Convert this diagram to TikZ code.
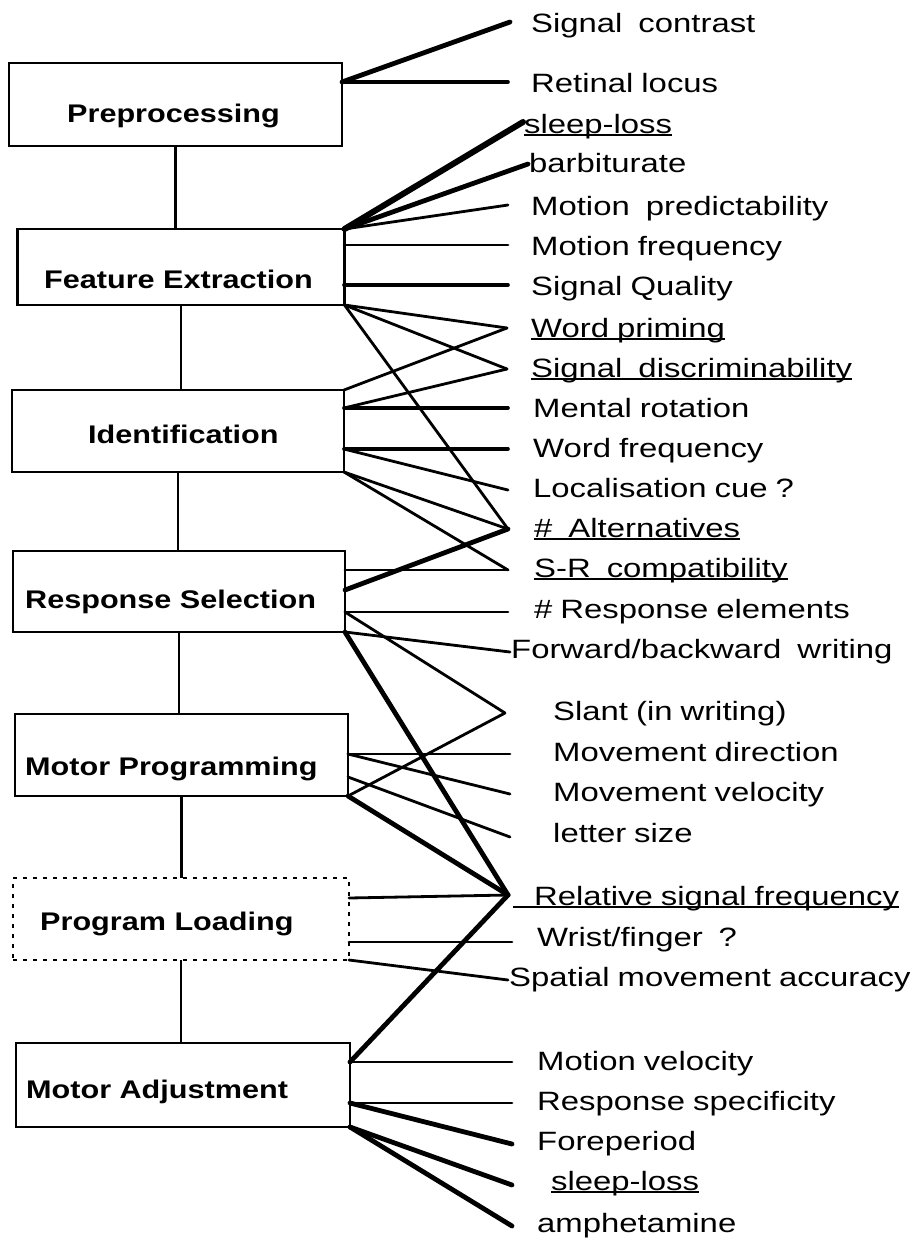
\documentclass[tikz,border=0pt]{standalone}
\usepackage{fontspec}
\newfontfamily\labfont{Liberation Sans}[FakeStretch=1.24]
\newfontfamily\boxfont{Liberation Sans}[FakeStretch=1.2]
\newcommand{\wg}{\hspace{16pt}}
\newcommand{\labsetup}{\labfont\fontsize{26.5}{30}\selectfont\spaceskip=8pt\relax}
\begin{document}
\begin{tikzpicture}[x=1pt,y=-1pt,
  box/.style={draw, line width=2.8pt, inner sep=0pt, outer sep=0pt},
  dbox/.style={box, dash pattern=on 4pt off 6pt},
  lab/.style={font=\labsetup, anchor=base west, inner sep=0pt},
  btxt/.style={font=\boxfont\bfseries\fontsize{25.5}{30}\selectfont, anchor=base west, inner sep=0pt},
  vline/.style={line width=2.2pt},
  thinln/.style={line width=2.8pt, line cap=round},
  medln/.style={line width=3.6pt, line cap=round},
  thickln/.style={line width=4.8pt, line cap=round},
  heavyln/.style={line width=6pt, line cap=round},
  ul/.style={line width=2pt}]
\useasboundingbox[fill=white] (0,0) rectangle (910,1240);

% boxes
\node[box, minimum width=333pt, minimum height=83pt] (pre) at (175.5,104.5) {};
\node[box, minimum width=327pt, minimum height=76pt] (fe) at (181,267) {};
\node[box, minimum width=332pt, minimum height=82pt] (id) at (178,431) {};
\node[box, minimum width=332pt, minimum height=81pt] (rs) at (179,591.5) {};
\node[box, minimum width=333pt, minimum height=82pt] (mp) at (181.5,755) {};
\node[dbox, minimum width=336pt, minimum height=82pt] (pl) at (181,919) {};
\node[box, minimum width=334pt, minimum height=84pt] (ma) at (183,1085) {};

% box texts
\node[btxt] (tpre) at (67,122) {Preprocessing};
\node[btxt] (tfe) at (44,288) {Feature Extraction};
\node[btxt] (tid) at (88,443) {Identification};
\node[btxt] (trs) at (25,608) {Response Selection};
\node[btxt] (tmp) at (25,775) {Motor Programming};
\node[btxt] (tpl) at (40,930) {Program Loading};
\node[btxt] (tma) at (26,1098) {Motor Adjustment};

% vertical links
\draw[vline] (pre.south) -- (pre.south |- fe.north);
\draw[vline] (fe.south) -- (fe.south |- id.north);
\draw[vline] (id.south) -- (id.south |- rs.north);
\draw[vline] (rs.south) -- (rs.south |- mp.north);
\draw[vline] (mp.south) -- (mp.south |- pl.north);
\draw[vline] (pl.south) -- (pl.south |- ma.north);

% right labels
\node[lab] (Lsc) at (531,32) {Signal\wg contrast};
\node[lab] (Lrl) at (531,92) {Retinal locus};
\node[lab] (Lsl) at (524,133) {sleep-loss};
\node[lab] (Lba) at (529,172) {barbiturate};
\node[lab] (Lmp) at (531,215) {Motion\wg predictability};
\node[lab] (Lmf) at (531,255) {Motion frequency};
\node[lab] (Lsq) at (531,295) {Signal Quality};
\node[lab] (Lwp) at (531,337) {Word priming};
\node[lab] (Lsd) at (531,377) {Signal\wg discriminability};
\node[lab] (Lmr) at (533,417) {Mental rotation};
\node[lab] (Lwf) at (533,457) {Word frequency};
\node[lab] (Llc) at (533,497) {Localisation cue ?};
\node[lab] (Lal) at (534,537) {\#\wg Alternatives};
\node[lab] (Lsr) at (534,577) {S-R\wg compatibility};
\node[lab] (Lre) at (534,618) {\# Response elements};
\node[lab] (Lfw) at (511,658) {Forward/backward\wg writing};
\node[lab] (Lsn) at (553,720) {Slant (in writing)};
\node[lab] (Lmd) at (553,761) {Movement direction};
\node[lab] (Lmv) at (553,801) {Movement velocity};
\node[lab] (Lls) at (553,842) {letter size};
\node[lab] (Lrsf) at (534,905) {Relative signal frequency};
\node[lab] (Lwr) at (537,946) {Wrist/finger\wg ?};
\node[lab] (Lsp) at (509,986) {Spatial movement accuracy};
\node[lab] (Lmvl) at (537,1070) {Motion velocity};
\node[lab] (Lrsp) at (537,1110) {Response specificity};
\node[lab] (Lfp) at (537,1150) {Foreperiod};
\node[lab] (Lsl2) at (551,1190) {sleep-loss};
\node[lab] (Lam) at (537,1232) {amphetamine};

% underlines
\draw[ul] ([yshift=-2pt]Lsl.base west) -- ([yshift=-2pt]Lsl.base east);
\draw[ul] ([yshift=-2pt]Lwp.base west) -- ([yshift=-2pt]Lwp.base east);
\draw[ul] ([yshift=-2pt]Lsd.base west) -- ([yshift=-2pt]Lsd.base east);
\draw[ul] ([yshift=-2pt]Lal.base west) -- ([yshift=-2pt]Lal.base east);
\draw[ul] ([yshift=-2pt]Lsr.base west) -- ([yshift=-2pt]Lsr.base east);
\draw[ul] ([yshift=-2pt,xshift=-21pt]Lrsf.base west) -- ([yshift=-2pt]Lrsf.base east);
\draw[ul] ([yshift=-2pt]Lsl2.base west) -- ([yshift=-2pt]Lsl2.base east);

% line end points (in front of the labels)
\coordinate (sc) at (510,22);
\coordinate (rl) at (508,82);
\coordinate (sl) at (523,122);
\coordinate (ba) at (528,164);
\coordinate (mpr) at (508,205);
\coordinate (mf) at (508,245);
\coordinate (sq) at (508,285);
\coordinate (wp) at (507,328);
\coordinate (sd) at (507,369);
\coordinate (mr) at (508,408);
\coordinate (wf) at (508,449);
\coordinate (lc) at (508,490);
\coordinate (al) at (508,529);
\coordinate (sr) at (508,570);
\coordinate (re) at (508,612);
\coordinate (fw) at (510,652);
\coordinate (sn) at (505,713);
\coordinate (md) at (510,754);
\coordinate (mv) at (510,794);
\coordinate (ls) at (510,837);
\coordinate (rsf) at (508,895);
\coordinate (wr) at (512,942);
\coordinate (sp) at (508,980);
\coordinate (mvl) at (512,1062);
\coordinate (rsp) at (512,1103);
\coordinate (fp) at (512,1144);
\coordinate (sl2) at (512,1185);
\coordinate (am) at (512,1226);

% start points on the boxes
\coordinate (preA) at (342,82);
\coordinate (feB) at (344,245);
\coordinate (feC) at (344,285);
\coordinate (idB) at (344,408);
\coordinate (idC) at (344,449);
\coordinate (rsA) at (345,570);
\coordinate (rsB) at (345,590);
\coordinate (rsC) at (345,612);
\coordinate (mpA) at (348,754);
\coordinate (mpB) at (348,777);
\coordinate (plA) at (349,898);
\coordinate (plB) at (349,942);
\coordinate (maA) at (350,1062);
\coordinate (maB) at (350,1103);

% Preprocessing
\draw[thickln] (preA) -- (sc);
\draw[medln] (preA) -- (rl);
% Feature Extraction
\draw[heavyln] (fe.north east) -- (sl);
\draw[thickln] (fe.north east) -- (ba);
\draw[thinln] (fe.north east) -- (mpr);
\draw[thinln] (feB) -- (mf);
\draw[medln] (feC) -- (sq);
\draw[thinln] (fe.south east) -- (wp);
\draw[thinln] (fe.south east) -- (sd);
\draw[thinln] (fe.south east) -- (al);
% Identification
\draw[thinln] (id.north east) -- (wp);
\draw[thinln] (idB) -- (sd);
\draw[medln] (idB) -- (mr);
\draw[medln] (idC) -- (wf);
\draw[thinln] (idC) -- (lc);
\draw[thinln] (id.south east) -- (al);
\draw[thinln] (id.south east) -- (sr);
% Response Selection
\draw[thinln] (rsA) -- (sr);
\draw[thickln] (rsB) -- (al);
\draw[thinln] (rsC) -- (re);
\draw[thinln] (rsC) -- (sn);
\draw[thinln] (rs.south east) -- (fw);
\draw[thickln] (rs.south east) -- (rsf);
% Motor Programming
\draw[thinln] (mpA) -- (md);
\draw[thinln] (mpA) -- (mv);
\draw[thinln] (mpB) -- (ls);
\draw[thinln] (mp.south east) -- (sn);
\draw[thickln] (mp.south east) -- (rsf);
% Program Loading
\draw[thinln] (plA) -- (rsf);
\draw[thinln] (plB) -- (wr);
\draw[thinln] (pl.south east) -- (sp);
% Motor Adjustment
\draw[thickln] (maA) -- (rsf);
\draw[thinln] (maA) -- (mvl);
\draw[thinln] (maB) -- (rsp);
\draw[thickln] (maB) -- (fp);
\draw[thickln] (ma.south east) -- (sl2);
\draw[thickln] (ma.south east) -- (am);
\end{tikzpicture}
\end{document}
